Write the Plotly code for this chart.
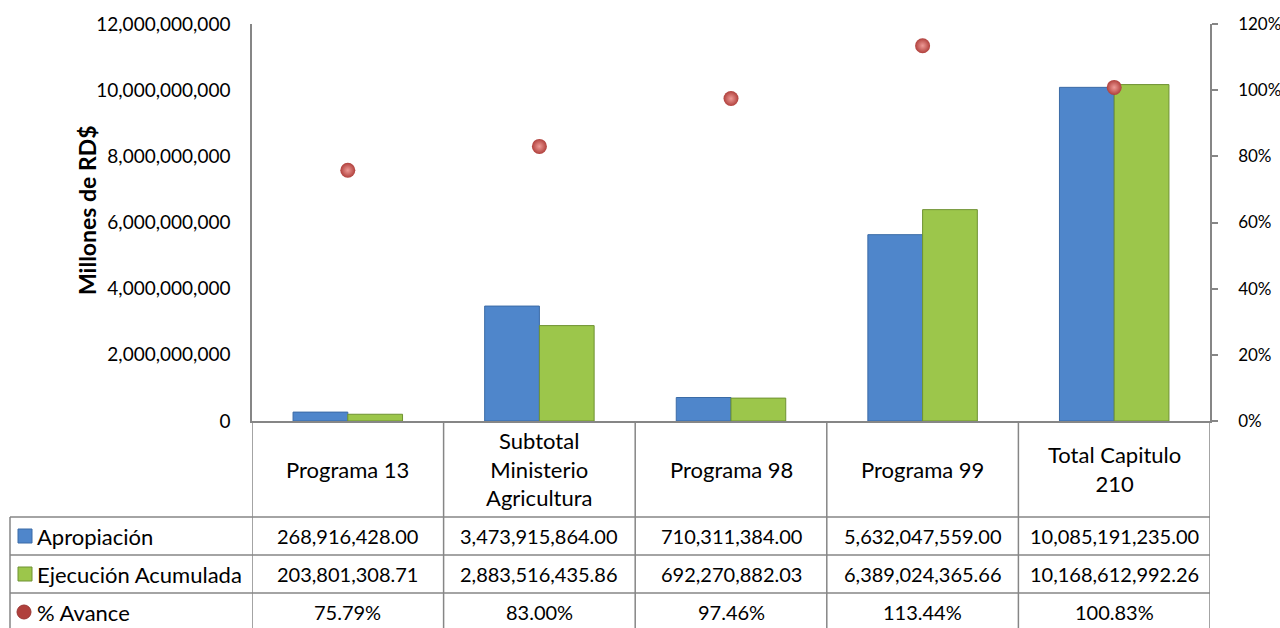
import plotly.graph_objects as go

# ---------------- data ----------------
categorias = ["Programa 13", "Subtotal Ministerio Agricultura", "Programa 98",
              "Programa 99", "Total Capitulo 210"]
etiquetas = ["Programa 13", "Subtotal<br>Ministerio<br>Agricultura", "Programa 98",
             "Programa 99", "Total Capitulo<br>210"]
apropiacion = [268916428.00, 3473915864.00, 710311384.00, 5632047559.00, 10085191235.00]
ejecucion = [203801308.71, 2883516435.86, 692270882.03, 6389024365.66, 10168612992.26]
avance = [75.79, 83.00, 97.46, 113.44, 100.83]
series = ["Apropiación", "Ejecución Acumulada", "% Avance"]
titulo_y = "Millones de RD$"

# ---------------- style ----------------
FONT = "Lato"
GRAY = "#868686"
BLUE = "#4F86CB"
BLUE_EDGE = "#3B6BA6"
GREEN = "#9CC64B"
GREEN_EDGE = "#6F9232"
RED = "#B0403C"
RED_LIGHT = "#EE9A96"

W, H = 1280, 628
L, R, T, B = 252, 1210, 24, 421          # plot area in pixels


def px(x):
    return (x - L) / (R - L)


def py(y):
    return (B - y) / (B - T)


fig = go.Figure()
fig.add_trace(go.Bar(x=categorias, y=apropiacion, name=series[0],
                     marker=dict(color=BLUE, line=dict(color=BLUE_EDGE, width=1))))
fig.add_trace(go.Bar(x=categorias, y=ejecucion, name=series[1],
                     marker=dict(color=GREEN, line=dict(color=GREEN_EDGE, width=1))))
fig.add_trace(go.Scatter(x=categorias, y=[a / 100 for a in avance], name=series[2],
                         mode="markers", yaxis="y2",
                         marker=dict(size=15, color=RED,
                                     gradient=dict(type="radial", color=RED_LIGHT),
                                     line=dict(width=0))))

shapes = []
line = dict(color=GRAY, width=1.5)
n = len(categorias)
# table vertical lines (column boundaries)
for i in range(n + 1):
    shapes.append(dict(type="line", xref="x", yref="paper",
                       x0=i - 0.5, x1=i - 0.5, y0=py(B), y1=py(632), line=line))
# leftmost table border
shapes.append(dict(type="line", xref="paper", yref="paper",
                   x0=px(10), x1=px(10), y0=py(517), y1=py(632), line=line))
# table horizontal lines
for yy in [517, 555, 593, 631]:
    shapes.append(dict(type="line", xref="paper", yref="paper",
                       x0=px(10), x1=px(R), y0=py(yy), y1=py(yy), line=line))

annotations = []
num_font = dict(family=FONT, size=20, color="#000000")
txt_font = dict(family=FONT, size=22, color="#000000")
# header (category names)
for c, lab in zip(categorias, etiquetas):
    annotations.append(dict(xref="x", yref="paper", x=c, y=py(469), text=lab,
                            showarrow=False, font=txt_font, align="center",
                            xanchor="center", yanchor="middle"))
# rows
rows_y = [536, 574, 612]
row_text = [[f"{v:,.2f}" for v in apropiacion],
            [f"{v:,.2f}" for v in ejecucion],
            [f"{v:.2f}%" for v in avance]]
for ry, texts in zip(rows_y, row_text):
    for c, t in zip(categorias, texts):
        annotations.append(dict(xref="x", yref="paper", x=c, y=py(ry), text=t,
                                showarrow=False, font=num_font,
                                xanchor="center", yanchor="middle"))
# row labels + legend keys
for ry, s in zip(rows_y, series):
    annotations.append(dict(xref="paper", yref="paper", x=px(35), y=py(ry), text=s,
                            showarrow=False, font=txt_font,
                            xanchor="left", yanchor="middle"))
shapes.append(dict(type="rect", xref="paper", yref="paper",
                   x0=px(18), x1=px(32), y0=py(rows_y[0] - 7), y1=py(rows_y[0] + 7),
                   fillcolor=BLUE, line=dict(color=BLUE_EDGE, width=1)))
shapes.append(dict(type="rect", xref="paper", yref="paper",
                   x0=px(18), x1=px(32), y0=py(rows_y[1] - 7), y1=py(rows_y[1] + 7),
                   fillcolor=GREEN, line=dict(color=GREEN_EDGE, width=1)))
shapes.append(dict(type="circle", xref="paper", yref="paper",
                   x0=px(17), x1=px(31), y0=py(rows_y[2] - 7), y1=py(rows_y[2] + 7),
                   fillcolor=RED, line=dict(color="#9A3532", width=1)))

# y-axis title
annotations.append(dict(xref="paper", yref="paper", x=px(87), y=py(210),
                        text=f"<b>{titulo_y}</b>", textangle=-90, showarrow=False,
                        font=dict(family=FONT, size=23, color="#000000"),
                        xanchor="center", yanchor="middle"))

fig.update_layout(
    width=W, height=H,
    margin=dict(l=L, r=W - R, t=T, b=H - B, autoexpand=False),
    paper_bgcolor="white", plot_bgcolor="white",
    barmode="group", bargap=1.5 / 3.5, bargroupgap=0,
    showlegend=False,
    font=dict(family=FONT, size=19, color="#000000"),
    xaxis=dict(showticklabels=False, ticks="", showgrid=False, zeroline=False,
               showline=True, linecolor=GRAY, linewidth=1.5,
               range=[-0.5, n - 0.5], fixedrange=True),
    yaxis=dict(range=[0, 12e9], dtick=2e9, tickformat=",d", showgrid=False,
               zeroline=False, showline=True, linecolor=GRAY, linewidth=1.5,
               ticks="", ticklabelstandoff=16,
               tickfont=dict(family=FONT, size=19, color="#000000")),
    yaxis2=dict(range=[0, 1.2], dtick=0.2, tickformat=".0%", overlaying="y",
                side="right", showgrid=False, zeroline=False, showline=True,
                linecolor=GRAY, linewidth=1.5, ticks="outside", ticklen=6,
                tickcolor=GRAY, tickwidth=1.5, ticklabelstandoff=17,
                tickfont=dict(family=FONT, size=17, color="#000000")),
    shapes=shapes,
    annotations=annotations,
)

fig.write_html(
    "out.html",
    config={"displayModeBar": False},
    post_script="document.body.style.margin='0';document.body.style.overflow='hidden';",
)
